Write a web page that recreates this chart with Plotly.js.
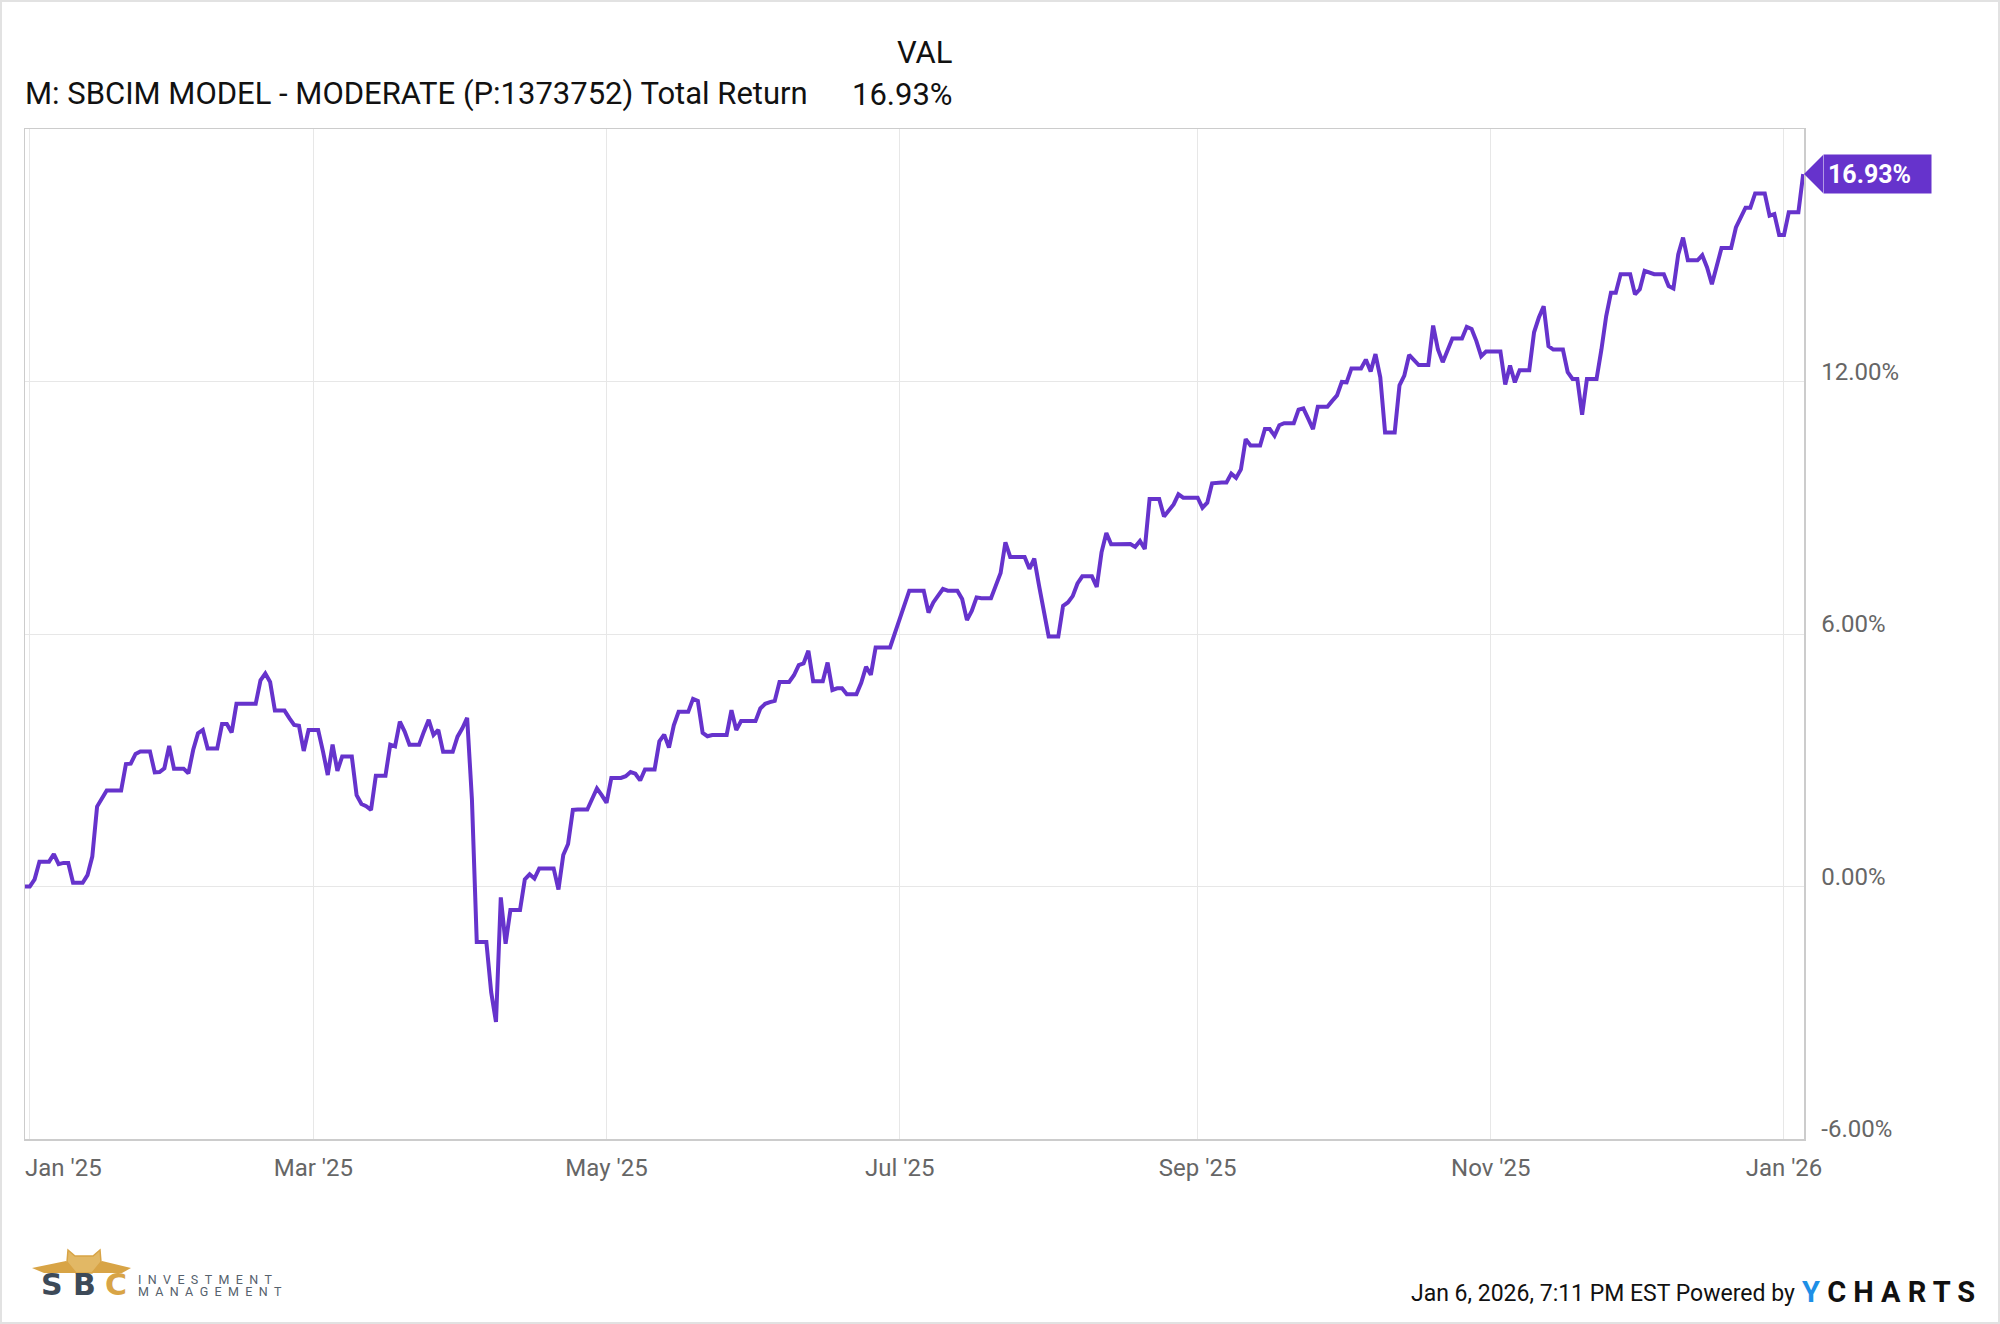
<!DOCTYPE html>
<html>
<head>
<meta charset="utf-8">
<script src="https://cdn.plot.ly/plotly-3.0.1.min.js"></script>
<style>
  html, body { margin: 0; padding: 0; background: #fff; }
  #wrap { position: relative; width: 2000px; height: 1324px; }
  #chart { position: absolute; left: 0; top: 0; width: 2000px; height: 1324px; }
  #frame { position: absolute; left: 0; top: 0; width: 2000px; height: 1324px; box-sizing: border-box;
           border: 2px solid #e2e2e2; pointer-events: none; }
</style>
</head>
<body>
<div id="wrap"><div id="chart"></div><div id="frame"></div></div>
<script>
// ---- Data (total return %, one value per calendar day; weekends/holidays carry the last close) ----
const seriesName = "M: SBCIM MODEL - MODERATE (P:1373752) Total Return";
const valueHeader = "VAL";
const lastValueText = "16.93%";
const firstDate = [2024, 11, 31]; // Dec 31, 2024

const dec2024 = [0.00];
const jan2025 = [0.00,0.17,0.59,0.59,0.59,0.77,0.53,0.56,0.56,0.09, 0.09,0.09,0.27,0.71,1.90,2.07,2.28,2.28,2.28,2.28, 2.91,2.92,3.15,3.21,3.21,3.21,2.71,2.72,2.81,3.34, 2.80];
const feb2025 = [2.80,2.80,2.69,3.25,3.64,3.72,3.28,3.28,3.28,3.86, 3.86,3.66,4.34,4.34,4.34,4.34,4.34,4.90,5.06,4.86, 4.18,4.18,4.18,4.00,3.84,3.82,3.22,3.72];
const mar2025 = [3.72,3.72,3.21,2.65,3.37,2.75,3.09,3.09,3.09,2.17, 1.96,1.91,1.82,2.63,2.63,2.63,3.37,3.33,3.92,3.68, 3.37,3.37,3.37,3.68,3.96,3.60,3.72,3.20,3.20,3.20, 3.56];
const apr2025 = [3.76,4.01,2.06,-1.32,-1.32,-1.32,-2.51,-3.22,-0.26,-1.36, -0.56,-0.56,-0.56,0.17,0.29,0.19,0.43,0.43,0.43,0.43, -0.07,0.75,1.01,1.82,1.83,1.83,1.83,2.08,2.33,2.17];
const may2025 = [1.99,2.58,2.58,2.58,2.62,2.72,2.68,2.52,2.78,2.78, 2.78,3.45,3.61,3.30,3.83,4.15,4.15,4.15,4.46,4.41, 3.65,3.57,3.60,3.60,3.60,3.60,4.19,3.72,3.93,3.93, 3.93];
const jun2025 = [3.93,4.23,4.34,4.38,4.41,4.86,4.86,4.86,5.02,5.26, 5.30,5.60,4.88,4.88,4.88,5.32,4.67,4.71,4.71,4.57, 4.57,4.57,4.84,5.22,5.03,5.68,5.68,5.68,5.68,6.02];
const jul2025 = [6.37,6.72,7.03,7.03,7.03,7.03,6.51,6.75,6.91,7.07, 7.03,7.03,7.03,6.83,6.33,6.55,6.87,6.85,6.85,6.85, 7.15,7.45,8.18,7.83,7.83,7.83,7.83,7.55,7.79,7.15, 6.58];
const aug2025 = [5.94,5.94,5.94,6.67,6.75,6.90,7.20,7.37,7.37,7.37, 7.12,7.94,8.40,8.13,8.13,8.13,8.13,8.14,8.07,8.21, 8.02,9.21,9.21,9.21,8.79,8.92,9.08,9.32,9.24,9.24, 9.24];
const sep2025 = [9.24,9.00,9.12,9.58,9.60,9.60,9.60,9.81,9.71,9.91, 10.63,10.48,10.48,10.48,10.87,10.87,10.71,10.96,11.01,11.01, 11.01,11.33,11.36,11.12,10.87,11.40,11.40,11.40,11.54,11.67];
const oct2025 = [11.99,11.98,12.31,12.31,12.31,12.52,12.24,12.65,12.10,10.79, 10.79,10.79,11.91,12.14,12.63,12.52,12.39,12.39,12.39,13.33, 12.76,12.46,12.72,13.02,13.02,13.02,13.30,13.25,12.96,12.60, 12.71];
const nov2025 = [12.71,12.71,12.71,11.93,12.38,11.98,12.27,12.27,12.27,13.17, 13.52,13.79,12.84,12.76,12.76,12.76,12.22,12.06,12.06,11.21, 12.06,12.06,12.06,12.75,13.55,14.11,14.11,14.55,14.55,14.55];
const dec2025 = [14.07,14.19,14.63,14.59,14.55,14.55,14.55,14.27,14.21,15.02, 15.42,14.88,14.88,14.88,15.00,14.71,14.31,14.73,15.17,15.17, 15.17,15.66,15.91,16.13,16.13,16.47,16.47,16.47,15.94,15.98, 15.48];
const jan2026 = [15.48,16.02,16.02,16.02,16.93];

// Axis ticks
const xTickDates = ["2025-01-01","2025-03-01","2025-05-01","2025-07-01","2025-09-01","2025-11-01","2026-01-01"];
const xTickLabels = ["","Mar '25","May '25","Jul '25","Sep '25","Nov '25","Jan '26"];
const firstTickLabel = "Jan '25";
const yTickValues = [-6, 0, 6, 12];
const yTickLabels = ["-6.00%","0.00%","6.00%","12.00%"];
const footerText = "Jan 6, 2026, 7:11 PM EST Powered by";

// ---- Build series ----
const values = [].concat(dec2024, jan2025, feb2025, mar2025, apr2025, may2025, jun2025,
                         jul2025, aug2025, sep2025, oct2025, nov2025, dec2025, jan2026);
function pad(n){ return (n < 10 ? "0" : "") + n; }
const dates = values.map(function(v, i){
  const d = new Date(Date.UTC(firstDate[0], firstDate[1], firstDate[2] + i));
  return d.getUTCFullYear() + "-" + pad(d.getUTCMonth() + 1) + "-" + pad(d.getUTCDate());
});
const lastValue = values[values.length - 1];

const PURPLE = "#6633cc";
const GOLD = "#d8a446";
const FONT = "Roboto, 'Open Sans', sans-serif";

// plot-area geometry (pixels) used for placing text outside the plot
const L = 25, R = 1804, T = 129, B = 1139;
function px(x){ return (x - L) / (R - L); }
function py(y){ return (B - y) / (B - T); }
function pathPx(pts){
  return "M " + pts.map(function(p){ return px(p[0]) + "," + py(p[1]); }).join(" L ") + " Z";
}

const trace = {
  x: dates, y: values, type: "scatter", mode: "lines",
  line: { color: PURPLE, width: 4, shape: "linear" },
  hoverinfo: "skip"
};

const sp = "\u2002";
const layout = {
  width: 2000, height: 1324,
  margin: { l: L, r: 2000 - R, t: T, b: 1324 - B, pad: 0 },
  paper_bgcolor: "#ffffff", plot_bgcolor: "#ffffff",
  showlegend: false,
  font: { family: FONT, color: "#000" },
  xaxis: {
    type: "date",
    range: ["2024-12-31", "2026-01-05 04:00"],
    tickmode: "array", tickvals: xTickDates, ticktext: xTickLabels,
    showgrid: true, gridcolor: "#e7e7e7", gridwidth: 1,
    showline: true, mirror: true, linecolor: "#cccccc", linewidth: 1.5,
    zeroline: false, ticks: "", ticklabelstandoff: 7,
    tickfont: { family: FONT, size: 24, color: "#666666" }
  },
  yaxis: {
    side: "right",
    range: [-6, 18],
    tickmode: "array", tickvals: yTickValues, ticktext: yTickLabels,
    showgrid: true, gridcolor: "#e7e7e7", gridwidth: 1,
    showline: true, mirror: true, linecolor: "#cccccc", linewidth: 1.5,
    zeroline: false, ticks: "", ticklabelstandoff: 11, ticklabelshift: -10,
    tickfont: { family: FONT, size: 24, color: "#666666" }
  },
  shapes: [
    { type: "path", xref: "paper", yref: "y", xsizemode: "pixel", ysizemode: "pixel",
      xanchor: 1, yanchor: lastValue, path: "M 0 0 L 19 19 L 19 -19 Z",
      fillcolor: PURPLE, line: { width: 0 }, layer: "above" },
    // SBC logo owl (decorative)
    { type: "path", xref: "paper", yref: "paper", path: pathPx([[32,1268],[66,1261],[80,1273],[44,1273]]),
      fillcolor: GOLD, line: { width: 0 } },
    { type: "path", xref: "paper", yref: "paper", path: pathPx([[131,1268],[102,1261],[88,1273],[122,1273]]),
      fillcolor: GOLD, line: { width: 0 } },
    { type: "path", xref: "paper", yref: "paper",
      path: pathPx([[68,1250],[75,1256],[93,1256],[100,1250],[101,1262],[92,1273],[76,1273],[67,1262]]),
      fillcolor: "#e2b865", line: { color: GOLD, width: 1.5 } }
  ],
  annotations: [
    { text: seriesName, xref: "paper", yref: "paper", x: px(23), y: py(94), xanchor: "left", yanchor: "middle",
      showarrow: false, font: { family: FONT, size: 31, color: "#111" } },
    { text: valueHeader, xref: "paper", yref: "paper", x: px(955), y: py(53), xanchor: "right", yanchor: "middle",
      showarrow: false, font: { family: FONT, size: 31, color: "#111" } },
    { text: lastValueText, xref: "paper", yref: "paper", x: px(955), y: py(95), xanchor: "right", yanchor: "middle",
      showarrow: false, font: { family: FONT, size: 31, color: "#111" } },
    { text: firstTickLabel, xref: "paper", yref: "paper", x: px(23), y: py(1168), xanchor: "left", yanchor: "middle",
      showarrow: false, font: { family: FONT, size: 24, color: "#666666" } },
    { text: lastValueText, xref: "paper", yref: "y", x: 1, y: lastValue, xshift: 19,
      xanchor: "left", yanchor: "middle", showarrow: false, align: "left",
      width: 99, height: 30, borderpad: 4, bgcolor: PURPLE,
      font: { family: FONT, size: 25, color: "#ffffff", weight: 700 } },
    { text: footerText, xref: "paper", yref: "paper", x: px(1797), y: py(1293), xanchor: "right", yanchor: "middle",
      showarrow: false, font: { family: FONT, size: 23, color: "#111" } },
    { text: "<b><span style='color:#1e8fe6'>Y</span> C H A R T S</b>", xref: "paper", yref: "paper",
      x: px(1800), y: py(1292), xanchor: "left", yanchor: "middle",
      showarrow: false, font: { family: FONT, size: 29, color: "#111" } },
    { text: "<b>S</b>", xref: "paper", yref: "paper", x: px(52), y: py(1284), xanchor: "center", yanchor: "middle",
      showarrow: false, font: { family: "DejaVu Sans", size: 30, color: "#3d4a58" } },
    { text: "<b>B</b>", xref: "paper", yref: "paper", x: px(84), y: py(1284), xanchor: "center", yanchor: "middle",
      showarrow: false, font: { family: "DejaVu Sans", size: 30, color: "#3d4a58" } },
    { text: "<b>C</b>", xref: "paper", yref: "paper", x: px(116), y: py(1284), xanchor: "center", yanchor: "middle",
      showarrow: false, font: { family: "DejaVu Sans", size: 30, color: GOLD } },
    { text: "INVESTMENT".split("").join(sp), xref: "paper", yref: "paper", x: px(136), y: py(1279), xanchor: "left", yanchor: "middle",
      showarrow: false, font: { family: FONT, size: 12.5, color: "#55616d" } },
    { text: "MANAGEMENT".split("").join(sp), xref: "paper", yref: "paper", x: px(136), y: py(1291), xanchor: "left", yanchor: "middle",
      showarrow: false, font: { family: FONT, size: 12.5, color: "#55616d" } }
  ]
};

Plotly.newPlot("chart", [trace], layout, { staticPlot: true, displayModeBar: false });
</script>
</body>
</html>
